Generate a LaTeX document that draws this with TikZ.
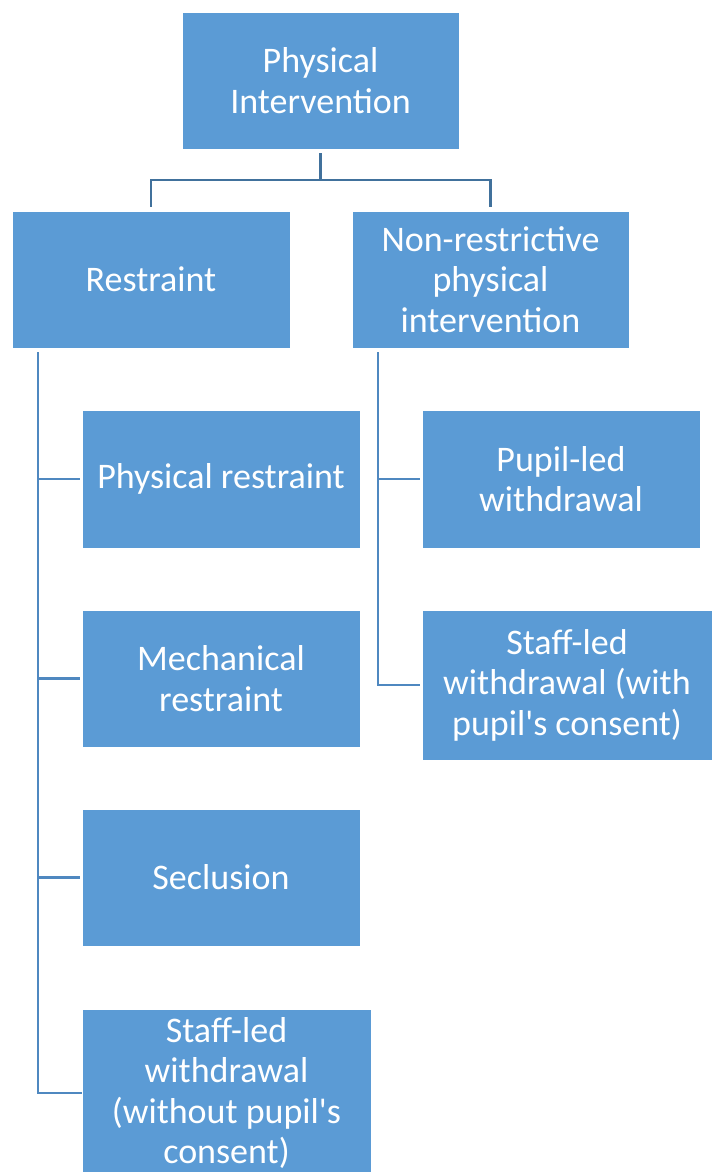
\documentclass[tikz,border=0pt]{standalone}
\usepackage{fontspec}
\newfontfamily\carl{Carlito}
\definecolor{boxblue}{HTML}{5B9BD5}
\definecolor{topline}{HTML}{41719C}
\definecolor{treeline}{HTML}{4F88C0}
\begin{document}
\begin{tikzpicture}[x=1pt,y=-1pt,
  box/.style={fill=boxblue, draw=white, line width=0.8pt, text=white, align=center,
    inner sep=0pt, font=\carl\fontsize{36}{40.5}\selectfont},
  conn/.style={draw=topline, line width=2.5pt},
  tree/.style={draw=treeline, line width=2.5pt}]
\useasboundingbox (0,0) rectangle (712,1172);
\clip (0,0) rectangle (712,1172);
\node[box, minimum width=277pt, minimum height=137pt] (top) at (320.5,80.5) {Physical\\Intervention};
\node[box, minimum width=278pt, minimum height=137pt] (restraint) at (151,279.5) {Restraint};
\node[box, minimum width=277pt, minimum height=137pt] (nonres) at (490.5,279.5) {Non-restrictive\\physical\\intervention};
\node[box, minimum width=278pt, minimum height=138pt] (phys) at (221,479) {Physical restraint};
\node[box, minimum width=278pt, minimum height=137pt] (mech) at (221,678.5) {Mechanical\\restraint};
\node[box, minimum width=278pt, minimum height=137pt] (secl) at (221,877.5) {Seclusion};
\node[box, minimum width=289pt, minimum height=168pt] (staffwo) at (226.5,1093) {Staff-led\\withdrawal\\(without pupil's\\consent)};
\node[box, minimum width=278pt, minimum height=138pt] (pupil) at (561,479) {Pupil-led\\withdrawal};
\node[box, minimum width=290pt, minimum height=150pt] (staffw) at (567,685) {Staff-led\\withdrawal (with\\pupil's consent)};
% top connector
\coordinate (hub) at (320.5,180);
\draw[conn] ([yshift=-4pt]top.south) -- (hub);
\draw[conn] ([yshift=4pt]restraint.north) |- (hub) -| ([yshift=4pt]nonres.north);
% left tree
\coordinate (lt) at (38,352);
\draw[tree] (lt) |- (staffwo.west);
\draw[tree] (lt |- phys.west) -- ([xshift=-2pt]phys.west);
\draw[tree] (lt |- mech.west) -- ([xshift=-2pt]mech.west);
\draw[tree] (lt |- secl.west) -- ([xshift=-2pt]secl.west);
% right tree
\coordinate (rt) at (378,352);
\draw[tree] (rt) |- ([xshift=-2pt]staffw.west);
\draw[tree] (rt |- pupil.west) -- ([xshift=-2pt]pupil.west);
\end{tikzpicture}
\end{document}
